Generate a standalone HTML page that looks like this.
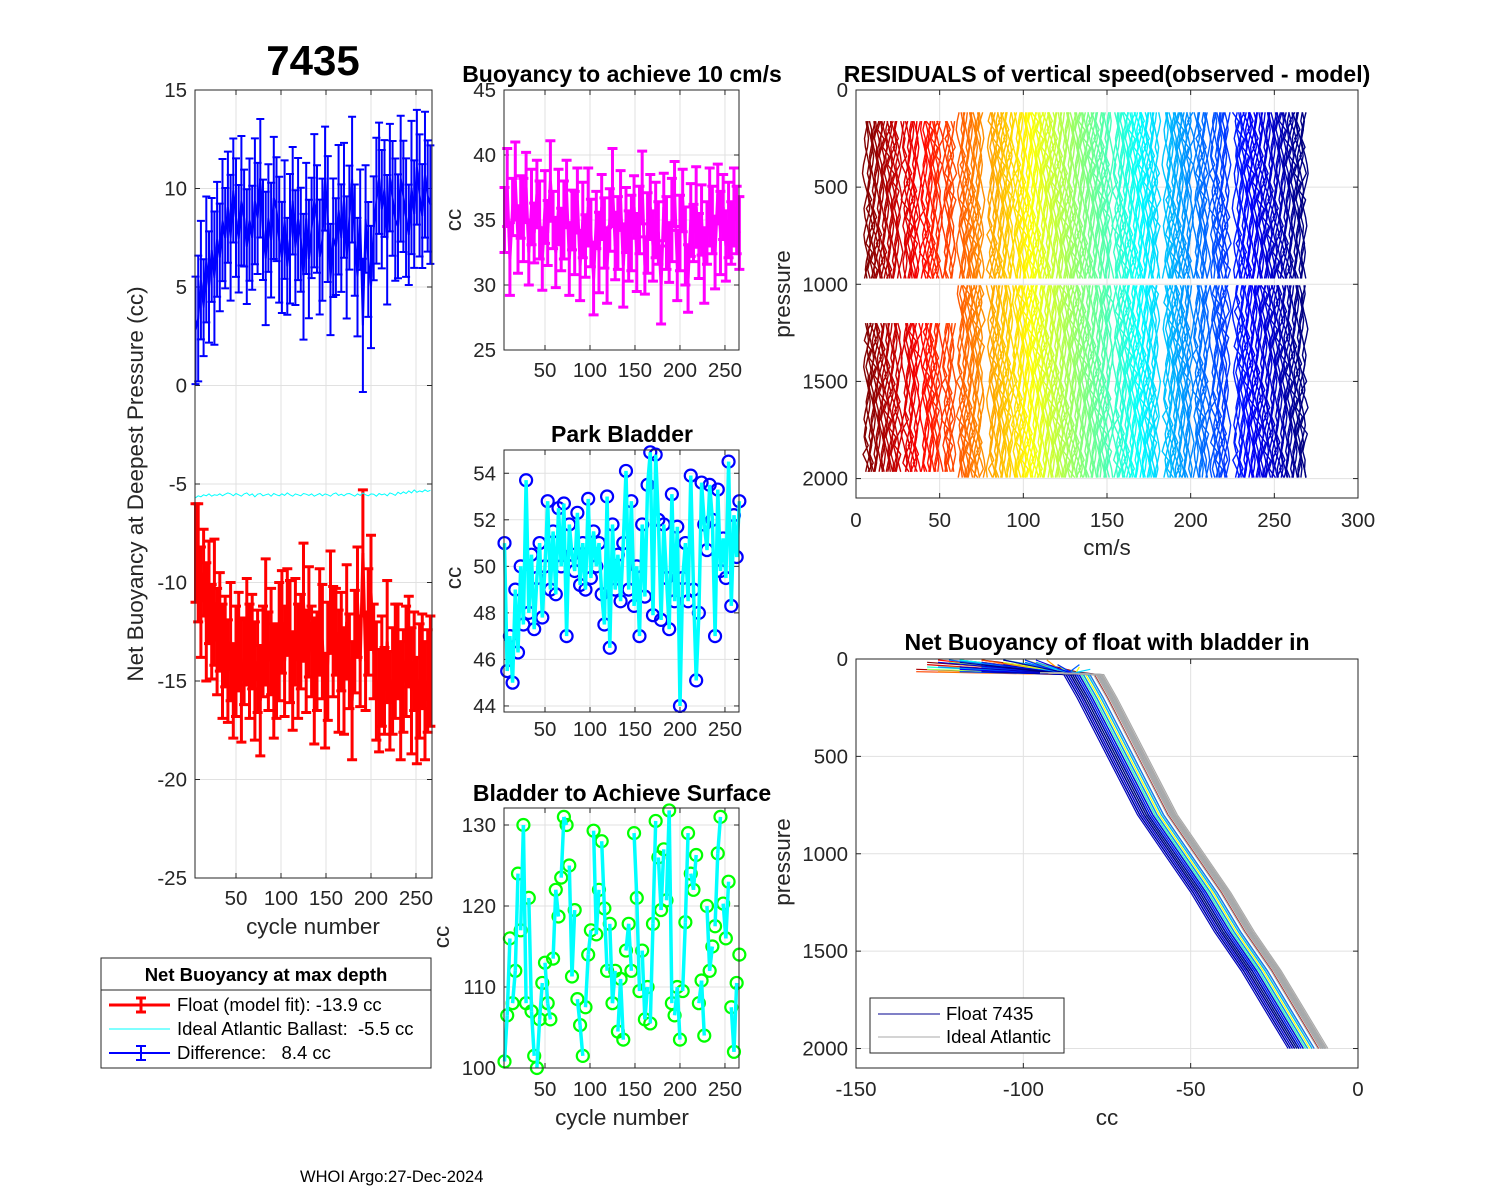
<!DOCTYPE html>
<html><head><meta charset="utf-8"><style>
html,body{margin:0;padding:0;background:#fff}
svg{display:block;font-family:"Liberation Sans",Arial,sans-serif}
.tl{font-size:20.5px;fill:#262626}
.ttl{font-size:23px;font-weight:bold;fill:#000}
.lab{font-size:22.5px;fill:#262626}
text{white-space:pre}
</style></head><body>
<svg id="fig" width="1500" height="1200" viewBox="0 0 1500 1200" xmlns="http://www.w3.org/2000/svg">
<rect x="0" y="0" width="1500" height="1200" fill="#fff"/>
<text x="313" y="75" text-anchor="middle" style="font-size:42px;font-weight:bold">7435</text>
<text class="lab" transform="translate(143,484) rotate(-90)" text-anchor="middle">Net Buoyancy at Deepest Pressure (cc)</text>
<text class="lab" x="313" y="934" text-anchor="middle">cycle number</text>
<text class="ttl" x="622" y="82" text-anchor="middle">Buoyancy to achieve 10 cm/s</text>
<text class="lab" transform="translate(461,220) rotate(-90)" text-anchor="middle">cc</text>
<text class="ttl" x="622" y="442" text-anchor="middle">Park Bladder</text>
<text class="lab" transform="translate(461,578) rotate(-90)" text-anchor="middle">cc</text>
<text class="ttl" x="622" y="801" text-anchor="middle">Bladder to Achieve Surface</text>
<text class="lab" transform="translate(449,937) rotate(-90)" text-anchor="middle">cc</text>
<text class="lab" x="622" y="1125" text-anchor="middle">cycle number</text>
<text class="ttl" x="1107" y="82" text-anchor="middle">RESIDUALS of vertical speed(observed - model)</text>
<text class="lab" x="1107" y="555" text-anchor="middle">cm/s</text>
<text class="lab" transform="translate(790,294) rotate(-90)" text-anchor="middle">pressure</text>
<text class="ttl" x="1107" y="650" text-anchor="middle">Net Buoyancy of float with bladder in</text>
<text class="lab" x="1107" y="1125" text-anchor="middle">cc</text>
<text class="lab" transform="translate(790,862) rotate(-90)" text-anchor="middle">pressure</text>
<text x="300" y="1182" style="font-size:16.5px">WHOI Argo:27-Dec-2024</text>
</svg>
<script>
// ---- data ----
const cycles=[];for(let i=0;i<88;i++)cycles.push(5+3*i);
const redVals=[-8.5,-9,-11,-9.5,-12,-10.5,-12.5,-11,-13,-12,-14,-13,
 -14.5,-13,-15.5,-14,-13,-15,-14,-12.5,-14,-13,-15,-14,
 -16,-13.5,-12,-14,-13,-15,-14.5,-13,-12,-14,-11.5,-13,
 -15,-12.5,-14,-13,-11,-14,-12,-13.5,-15,-14,-12,-13,
 -16,-14,-11,-13,-12.5,-14.5,-13,-15,-12,-14,-16,-13,
 -11,-14,-8.5,-14,-12,-10.5,-13.5,-15,-16,-14.5,-15.5,-13,
 -16,-15,-14,-13.5,-16,-15,-14,-13,-15.5,-14,-16.5,-15,
 -14,-16,-15,-14.5];
const redErr=[2.5,3,2.8,2.2,3,2.6,2.4,3.2,2.7,2.5,2.9,2.3,
 2.6,3,2.4,2.8,2.5,3.1,2.2,2.7,2.9,2.4,3,2.6,
 2.8,2.3,3.2,2.5,2.7,2.9,2.4,3,2.6,2.8,2.2,3.1,
 2.5,2.7,2.9,2.4,3,2.6,2.8,2.3,3.2,2.5,2.7,2.9,
 2.4,3,2.6,2.8,2.2,3.1,2.5,2.7,2.9,2.4,3,2.6,
 2.8,2.3,3.2,2.5,2.7,2.9,2.4,3,2.6,2.8,2.2,3.1,
 2.5,2.7,2.9,2.4,3,2.6,2.8,2.3,3.2,2.5,2.7,2.9,
 2.4,3,2.6,2.8];
const idealVals=[-5.7,-5.6,-5.65,-5.55,-5.6,-5.5,-5.62,-5.55,-5.58,-5.5,-5.6,-5.52,
 -5.45,-5.5,-5.6,-5.48,-5.55,-5.62,-5.5,-5.45,-5.58,-5.5,-5.65,-5.52,
 -5.48,-5.6,-5.55,-5.5,-5.62,-5.48,-5.55,-5.6,-5.5,-5.58,-5.45,-5.55,
 -5.62,-5.5,-5.55,-5.6,-5.48,-5.52,-5.58,-5.5,-5.62,-5.55,-5.48,-5.6,
 -5.5,-5.55,-5.62,-5.5,-5.45,-5.58,-5.52,-5.6,-5.5,-5.48,-5.55,-5.62,
 -5.5,-5.58,-5.45,-5.55,-5.6,-5.5,-5.52,-5.62,-5.48,-5.55,-5.5,-5.6,
 -5.45,-5.5,-5.58,-5.42,-5.5,-5.4,-5.48,-5.35,-5.45,-5.3,-5.42,-5.35,
 -5.4,-5.3,-5.38,-5.32];
const buoyVals=[35,37.5,32,36,38,33.5,36,35,37.5,32.5,36,34,
 37,35,32,36,34,38,35,32.5,36,33.5,35,37,
 32,35,34,36.5,31.5,35,33,36,34,30.5,35,32.5,
 36,34,31.5,35,37.5,33,34,36.5,31.5,35,33,34,
 36,32.5,35,37.5,31.5,34,36,33,35,34,30,36,
 34,32.5,35,37,31.5,34,36.5,33,30.5,35,34,36,
 33,35,31.5,34,36,35,32.5,37,34,36,33,35,
 34,36,35,34];
const parkVals=[51,45.5,47,45,49,46.3,50,47.5,53.7,48,50.5,47.3,
 49.5,51,47.8,50,52.8,49,51.5,48.8,52.5,50,52.7,47,
 51.8,50.5,49.8,52.3,49.2,51,49,52.9,49.5,51.5,50,51,
 48.8,47.5,53,46.5,51.8,49,50.5,48.5,51,54.1,49,52.8,
 48.3,50,47,51.8,48.7,53.5,54.9,47.9,54.8,52,47.7,51.8,
 49.5,47.3,53.1,48.5,51.7,44,49.5,51,48.5,53.9,49,45.1,
 48,53.6,51.8,50.7,53.5,52,47,53.3,49.8,51.2,49.5,54.5,
 48.3,52.2,50.4,52.8];
const surfVals=[100.8,106.5,116,108,112,124,117,130,108,121,107,101.5,
 100,106,110.5,113,108,106,113.5,122,118.7,123.5,131,130,
 125,111.3,119.5,108.5,105.3,101.5,107.5,114,117,129.3,116.5,122,
 128,119.7,112,117.8,108,112,104.5,111,103.5,114.5,117.8,112,
 129,121,109.5,114.5,106,110,105.5,117.8,130.5,126,119.5,127,
 120.7,131.8,108,106.5,110,103.5,109.5,118,129,124,122,126.3,
 108,110.8,104,120,112,115,117.5,126.5,131,120.3,116,123,
 107.5,102,110.5,114];
const residRanges=[[6,26],[29,37],[40,50],[53,58],[62,75],[80,93],[95,152],[155,180],[185,200],[203,210],[213,222],[227,268]];
const residWiggle=[0,0.8,1.5,0.9,-0.4,-1.5,-2.1,-1.0,0.5,1.6,2.2,1.1,-0.2,-1.3,-0.6,0.7,1.4,0.3,-0.9,-1.9,-1.4,-0.2,0.8,1.9,1.2,0.2,-1.1,-2.2,-1.6,-0.3,0.8,1.5,0.5,-0.8,-1.4,-0.4,0.9,2.0,1.0,-0.3,-1.2,0.3,-0.7,1.3,-1.8,0.6,2.1,-0.5,-2.0,1.7,0.1,-1.0,0.4];
const nbPres=[80,200,400,600,800,1000,1200,1400,1600,1800,2000];
const nbBase=[-84,-80,-74,-68,-62,-54,-46,-39,-31,-24,-17];
const tick5=[50,100,150,200,250];

// ---- helpers ----
const NS='http://www.w3.org/2000/svg';
const fig=document.getElementById('fig');
function mk(tag,parent,attrs){const e=document.createElementNS(NS,tag);for(const k in attrs)e.setAttribute(k,attrs[k]);parent.appendChild(e);return e;}
function jet(t){const c=v=>Math.round(255*Math.max(0,Math.min(1,v)));return `rgb(${c(1.5-Math.abs(4*t-3))},${c(1.5-Math.abs(4*t-2))},${c(1.5-Math.abs(4*t-1))})`;}
function makeAxes(name,x0,x1,y0,y1,xmin,xmax,ymin,ymax,rev,xt,yt,xlbl){
  const X=v=>x0+(v-xmin)/(xmax-xmin)*(x1-x0);
  const Y=rev?(v=>y0+(v-ymin)/(ymax-ymin)*(y1-y0)):(v=>y1-(v-ymin)/(ymax-ymin)*(y1-y0));
  const g=mk('g',fig,{});
  
  
  const bg=mk('rect',g,{x:x0,y:y0,width:x1-x0,height:y1-y0,fill:'#fff'});
  
  
  xt.forEach(v=>{const x=X(v);
    const gl=mk('line',g,{x1:x,x2:x,y1:y0,y2:y1,stroke:'#e1e1e1','stroke-width':1});
    
    
    mk('line',g,{x1:x,x2:x,y1:y1,y2:y1-5,stroke:'#262626'});
    mk('line',g,{x1:x,x2:x,y1:y0,y2:y0+5,stroke:'#262626'});
    const t=mk('text',g,{x:x,y:xlbl,'text-anchor':'middle',class:'tl'});t.textContent=v;
    
    
  });
  yt.forEach(v=>{const y=Y(v);
    const gl=mk('line',g,{x1:x0,x2:x1,y1:y,y2:y,stroke:'#e1e1e1','stroke-width':1});
    
    
    mk('line',g,{x1:x0,x2:x0+5,y1:y,y2:y,stroke:'#262626'});
    mk('line',g,{x1:x1,x2:x1-5,y1:y,y2:y,stroke:'#262626'});
    const t=mk('text',g,{x:x0-8,y:y+7,'text-anchor':'end',class:'tl'});t.textContent=v;
    
    
  });
  const data=mk('g',fig,{});
  
  
  const box=mk('rect',fig,{x:x0,y:y0,width:x1-x0,height:y1-y0,fill:'none',stroke:'#262626','stroke-width':1});
  
  
  return {X,Y,g:data,box};
}
function errbars(A,g,xs,ys,es,color,lw,cap,nm){
  let d='';xs.forEach((c,i)=>{d+=(i?'L':'M')+A.X(c).toFixed(1)+' '+A.Y(ys[i]).toFixed(1);});
  const ln=mk('path',g,{d:d,fill:'none',stroke:color,'stroke-width':lw});
  
  
  xs.forEach((c,i)=>{const x=A.X(c),ya=A.Y(ys[i]-es[i]),yb=A.Y(ys[i]+es[i]);
    const p=mk('path',g,{d:`M${x} ${ya}V${yb}M${x-cap} ${ya}H${x+cap}M${x-cap} ${yb}H${x+cap}`,fill:'none',stroke:color,'stroke-width':lw});
    
    
  });
}

// ---- Panel 1 ----
const A1=makeAxes('netbuoy',195,432,90,878,4.44,267.8,-25,15,false,tick5,[-25,-20,-15,-10,-5,0,5,10,15],905);
const blueVals=redVals.map((r,i)=>idealVals[i]-r);
const blueErr=redErr.map(e=>Math.sqrt(e*e+1.2));
errbars(A1,A1.g,cycles,blueVals,blueErr,'#0000ff',2,4,'difference');
errbars(A1,A1.g,cycles,redVals,redErr,'#ff0000',3,5,'float-model-fit');
{let d='';cycles.forEach((c,i)=>{d+=(i?'L':'M')+A1.X(c).toFixed(1)+' '+A1.Y(idealVals[i]).toFixed(1);});
 const p=mk('path',A1.g,{d:d,fill:'none',stroke:'#00ffff','stroke-width':1});
 
 }

// ---- Panel 2 ----
const A2=makeAxes('buoyancy',504,739,90,350,4.44,265.6,25,45,false,tick5,[25,30,35,40,45],377);
errbars(A2,A2.g,cycles,buoyVals,redErr,'#ff00ff',3,5,'buoyancy');

// ---- Panel 3 ----
const A3=makeAxes('park',504,739,450,712,4.44,265.6,43.74,55,false,tick5,[44,46,48,50,52,54],736);
cycles.forEach((c,i)=>{const m=mk('circle',A3.g,{cx:A3.X(c),cy:A3.Y(parkVals[i]),r:6,fill:'none',stroke:'#0000ff','stroke-width':2.2});
  
  });
{let d='';cycles.forEach((c,i)=>{d+=(i?'L':'M')+A3.X(c).toFixed(1)+' '+A3.Y(parkVals[i]).toFixed(1);});
 const p=mk('path',A3.g,{d:d,fill:'none',stroke:'#00ffff','stroke-width':3.5});
 
 }

// ---- Panel 4 ----
const A4=makeAxes('surface',504,739,808,1068,4.44,265.6,100,132.1,false,tick5,[100,110,120,130],1096);
cycles.forEach((c,i)=>{const m=mk('circle',A4.g,{cx:A4.X(c),cy:A4.Y(surfVals[i]),r:6,fill:'none',stroke:'#00ff00','stroke-width':2.2});
  
  });
cycles.forEach((c,i)=>{if(i===cycles.length-1||i%3===2)return;
  const p=mk('line',A4.g,{x1:A4.X(c),y1:A4.Y(surfVals[i]),x2:A4.X(cycles[i+1]),y2:A4.Y(surfVals[i+1]),stroke:'#00ffff','stroke-width':3.5});
  
  });

// ---- Panel 5 ----
const A5=makeAxes('residuals',856,1358,90,498,0,300,0,2100,true,[0,50,100,150,200,250,300],[0,500,1000,1500,2000],527);
{const cyc=[];residRanges.forEach(r=>{for(let c=r[0];c<=r[1];c++)cyc.push(c);});
 const L=residWiggle.length;
 cyc.forEach((c,k)=>{const col=jet(1-(c-6)/262);
  const halves=[[c<62?160:115,1010],[c<62?1200:1005,2000]];
  halves.forEach((h,hh)=>{let d='';let j=0;
    for(let p=h[0];p<=h[1];p+=45,j++){const w=residWiggle[(j+17*k+29*hh)%L]*1.0;d+=(j?'L':'M')+A5.X(c+w).toFixed(1)+' '+A5.Y(Math.min(p,h[1])).toFixed(1);}
    const pl=mk('path',A5.g,{d:d,fill:'none',stroke:col,'stroke-width':1.4,'stroke-linejoin':'round'});
    
    });
 });}

// ---- Panel 6 ----
const A6=makeAxes('profile',856,1358,659,1068,-150,0,0,2100,true,[-150,-100,-50,0],[0,500,1000,1500,2000],1096);
cycles.forEach((c,i)=>{const off=(redVals[i]+13.5)*1.3;const top=-80-(buoyVals[i]-30)*6.5;
  let d=`M${A6.X(top).toFixed(1)} ${A6.Y(5+(i%6)*12).toFixed(1)}`;
  nbPres.forEach((p,j)=>{d+='L'+A6.X(nbBase[j]+off).toFixed(1)+' '+A6.Y(p).toFixed(1);});
  const pl=mk('path',A6.g,{d:d,fill:'none',stroke:jet(1-(c-5)/261),'stroke-width':1.2});
  
  });
cycles.forEach((c,i)=>{if(i%4)return;const off=7+(idealVals[i]+5.5)*10;
  let d=`M${A6.X(-95+(i%8)).toFixed(1)} ${A6.Y(70).toFixed(1)}`;
  nbPres.forEach((p,j)=>{d+='L'+A6.X(nbBase[j]+off).toFixed(1)+' '+A6.Y(p).toFixed(1);});
  const pl=mk('path',A6.g,{d:d,fill:'none',stroke:'#aaaaaa','stroke-width':1.2});
  
  });

// ---- Legends ----
{const g=mk('g',fig,{});
 
 
 mk('rect',g,{x:101,y:958,width:330,height:110,fill:'#fff',stroke:'#262626'});
 mk('line',g,{x1:101,x2:431,y1:990,y2:990,stroke:'#262626'});
 const t=mk('text',g,{x:266,y:981,'text-anchor':'middle',style:'font-size:18.5px;font-weight:bold'});t.textContent='Net Buoyancy at max depth';
 
 
 const rows=[['Float (model fit): -13.9 cc','#ff0000',3,1005,true],['Ideal Atlantic Ballast:  -5.5 cc','#00ffff',1,1029,false],['Difference:   8.4 cc','#0000ff',2,1053,true]];
 rows.forEach(r=>{const e=mk('g',g,{});
  
  
  mk('line',e,{x1:109,x2:170,y1:r[3],y2:r[3],stroke:r[1],'stroke-width':r[2]});
  if(r[4]){mk('path',e,{d:`M141 ${r[3]-7}V${r[3]+7}M136 ${r[3]-7}H146M136 ${r[3]+7}H146`,stroke:r[1],'stroke-width':r[2],fill:'none'});}
  const tx=mk('text',e,{x:177,y:r[3]+6,style:'font-size:18.5px'});tx.textContent=r[0];
 });}
{const g=mk('g',fig,{});
 
 
 mk('rect',g,{x:870,y:998,width:194,height:55,fill:'#fff',stroke:'#262626'});
 [['Float 7435','#00008f',1014],['Ideal Atlantic','#aaaaaa',1037]].forEach(r=>{const e=mk('g',g,{});
  
  
  mk('line',e,{x1:878,x2:940,y1:r[2],y2:r[2],stroke:r[1],'stroke-width':1});
  const tx=mk('text',e,{x:946,y:r[2]+6,style:'font-size:18.5px'});tx.textContent=r[0];});}
</script>
</body></html>
